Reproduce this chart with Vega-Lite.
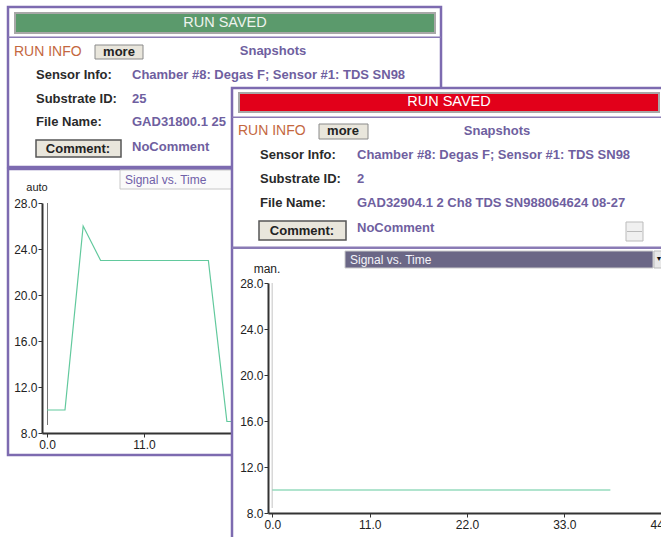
{
  "$schema": "https://vega.github.io/schema/vega-lite/v6.json",
  "width": 661,
  "height": 537,
  "autosize": {"type": "none"},
  "padding": 0,
  "background": "white",
  "config": {
    "view": {"stroke": null},
    "font": "Liberation Sans",
    "text": {"font": "Liberation Sans", "baseline": "middle", "align": "left", "fontSize": 13}
  },
  "datasets": {
    "run25": [
      {"t": 0, "v": 10},
      {"t": 2.04, "v": 10},
      {"t": 4.1, "v": 26},
      {"t": 6.08, "v": 23},
      {"t": 18.3, "v": 23},
      {"t": 20.4, "v": 9},
      {"t": 22, "v": 9}
    ],
    "run2": [
      {"t": 0, "v": 10},
      {"t": 38.2, "v": 10}
    ],
    "ui": [{}]
  },
  "data": {"name": "ui"},
  "resolve": {
    "scale": {"x": "independent", "y": "independent"},
    "axis": {"x": "independent", "y": "independent"}
  },
  "layer": [
    {"mark": {"type": "rect", "x": 8, "y": 7, "x2": 441, "y2": 167, "fillOpacity": 0, "stroke": "#7d6bb0", "strokeWidth": 2.5}, "encoding": {}},
    {"mark": {"type": "rect", "x": 8, "y": 169, "x2": 437, "y2": 455, "fillOpacity": 0, "stroke": "#7d6bb0", "strokeWidth": 2.5}, "encoding": {}},
    {"mark": {"type": "rect", "x": 8, "y": 36.5, "x2": 441, "y2": 38, "fill": "#8a7bb5"}, "encoding": {}},
    {"mark": {"type": "rect", "x": 15, "y": 13, "x2": 435, "y2": 33, "fill": "#5b9a6c", "stroke": "#a8a8a8", "strokeWidth": 2}, "encoding": {}},
    {"mark": {"type": "text", "x": 225, "y": 23, "text": "RUN SAVED", "align": "center", "fontSize": 14.5, "color": "#eef3ee"}, "encoding": {}},
    {"mark": {"type": "text", "x": 14, "y": 52, "text": "RUN INFO", "fontSize": 14, "color": "#c4683f"}, "encoding": {}},
    {"mark": {"type": "rect", "x": 95, "y": 45, "x2": 143, "y2": 59, "fill": "#e9e6dc", "stroke": "#8a8a8a", "strokeWidth": 1}, "encoding": {}},
    {"mark": {"type": "text", "x": 119, "y": 52, "text": "more", "align": "center", "fontWeight": "bold", "color": "#222222"}, "encoding": {}},
    {"mark": {"type": "text", "x": 273, "y": 51, "text": "Snapshots", "align": "center", "fontWeight": "bold", "color": "#6f5fa0"}, "encoding": {}},
    {"mark": {"type": "text", "x": 36, "y": 75, "text": "Sensor Info:", "fontWeight": "bold", "color": "#2a2a2a"}, "encoding": {}},
    {"mark": {"type": "text", "x": 132, "y": 75, "text": "Chamber #8: Degas F; Sensor #1: TDS SN98", "fontWeight": "bold", "color": "#6f5fa0"}, "encoding": {}},
    {"mark": {"type": "text", "x": 36, "y": 99, "text": "Substrate ID:", "fontWeight": "bold", "color": "#2a2a2a"}, "encoding": {}},
    {"mark": {"type": "text", "x": 132, "y": 99, "text": "25", "fontWeight": "bold", "color": "#6f5fa0"}, "encoding": {}},
    {"mark": {"type": "text", "x": 36, "y": 122, "text": "File Name:", "fontWeight": "bold", "color": "#2a2a2a"}, "encoding": {}},
    {"mark": {"type": "text", "x": 132, "y": 122, "text": "GAD31800.1 25", "fontWeight": "bold", "color": "#6f5fa0"}, "encoding": {}},
    {"mark": {"type": "rect", "x": 36, "y": 140, "x2": 121, "y2": 157, "fill": "#e9e6dc", "stroke": "#555555", "strokeWidth": 1.5}, "encoding": {}},
    {"mark": {"type": "text", "x": 78, "y": 149, "text": "Comment:", "align": "center", "fontWeight": "bold", "color": "#222222"}, "encoding": {}},
    {"mark": {"type": "text", "x": 132, "y": 147, "text": "NoComment", "fontWeight": "bold", "color": "#6f5fa0"}, "encoding": {}},
    {"mark": {"type": "rect", "x": 120, "y": 170, "x2": 236, "y2": 189, "fill": "#fafafa", "stroke": "#c8c8c8", "strokeWidth": 1}, "encoding": {}},
    {"mark": {"type": "text", "x": 125, "y": 180, "text": "Signal vs. Time", "fontSize": 12, "color": "#7060a8"}, "encoding": {}},
    {"mark": {"type": "text", "x": 37, "y": 188, "text": "auto", "align": "center", "fontSize": 11, "color": "#222222"}, "encoding": {}},
    {"mark": {"type": "rect", "x": 47.5, "y": 203, "x2": 47.5, "y2": 425, "fillOpacity": 0, "stroke": "#777777", "strokeWidth": 1, "strokeDash": [2, 2]}, "encoding": {}},
    {
      "data": {"name": "run25"},
      "mark": {"type": "line", "color": "#62c99d", "strokeWidth": 1.2},
      "encoding": {
        "x": {
          "field": "t", "type": "quantitative",
          "scale": {"domain": [-0.567, 44], "range": [42, 435], "nice": false, "zero": false},
          "axis": {"orient": "bottom", "values": [0, 11], "format": ".1f", "offset": -104, "title": null, "grid": false,
            "domainColor": "#333333", "domainWidth": 2, "tickColor": "#333333", "tickSize": 4, "labelFlush": false,
            "labelFontSize": 12, "labelColor": "#222222", "labelFont": "Liberation Sans", "labelPadding": 2, "zindex": 0}
        },
        "y": {
          "field": "v", "type": "quantitative",
          "scale": {"domain": [8, 28], "range": [433, 203], "nice": false, "zero": false},
          "axis": {"orient": "left", "values": [8, 12, 16, 20, 24, 28], "format": ".1f", "offset": -42, "title": null, "grid": false,
            "domainColor": "#333333", "domainWidth": 2, "tickColor": "#333333", "tickSize": 4, "labelFlush": false,
            "labelFontSize": 12, "labelColor": "#222222", "labelFont": "Liberation Sans", "labelPadding": 1, "zindex": 0}
        }
      }
    },
    {"mark": {"type": "rect", "x": 232, "y": 88, "x2": 700, "y2": 600, "fill": "white", "stroke": "#7d6bb0", "strokeWidth": 2.5}, "encoding": {}},
    {"mark": {"type": "rect", "x": 239, "y": 93, "x2": 659, "y2": 112, "fill": "#e2001a", "stroke": "#a8a8a8", "strokeWidth": 2}, "encoding": {}},
    {"mark": {"type": "text", "x": 449, "y": 102, "text": "RUN SAVED", "align": "center", "fontSize": 14.5, "color": "#ffffff"}, "encoding": {}},
    {"mark": {"type": "rect", "x": 232, "y": 116.5, "x2": 661, "y2": 118, "fill": "#8a7bb5"}, "encoding": {}},
    {"mark": {"type": "text", "x": 238, "y": 131, "text": "RUN INFO", "fontSize": 14, "color": "#c4683f"}, "encoding": {}},
    {"mark": {"type": "rect", "x": 319, "y": 124, "x2": 368, "y2": 139, "fill": "#e9e6dc", "stroke": "#8a8a8a", "strokeWidth": 1}, "encoding": {}},
    {"mark": {"type": "text", "x": 343, "y": 131, "text": "more", "align": "center", "fontWeight": "bold", "color": "#222222"}, "encoding": {}},
    {"mark": {"type": "text", "x": 497, "y": 131, "text": "Snapshots", "align": "center", "fontWeight": "bold", "color": "#6f5fa0"}, "encoding": {}},
    {"mark": {"type": "text", "x": 260, "y": 155, "text": "Sensor Info:", "fontWeight": "bold", "color": "#2a2a2a"}, "encoding": {}},
    {"mark": {"type": "text", "x": 357, "y": 155, "text": "Chamber #8: Degas F; Sensor #1: TDS SN98", "fontWeight": "bold", "color": "#6f5fa0"}, "encoding": {}},
    {"mark": {"type": "text", "x": 260, "y": 179, "text": "Substrate ID:", "fontWeight": "bold", "color": "#2a2a2a"}, "encoding": {}},
    {"mark": {"type": "text", "x": 357, "y": 179, "text": "2", "fontWeight": "bold", "color": "#6f5fa0"}, "encoding": {}},
    {"mark": {"type": "text", "x": 260, "y": 203, "text": "File Name:", "fontWeight": "bold", "color": "#2a2a2a"}, "encoding": {}},
    {"mark": {"type": "text", "x": 357, "y": 203, "text": "GAD32904.1 2 Ch8 TDS SN988064624 08-27", "fontWeight": "bold", "color": "#6f5fa0"}, "encoding": {}},
    {"mark": {"type": "rect", "x": 259, "y": 221, "x2": 346, "y2": 240, "fill": "#e9e6dc", "stroke": "#555555", "strokeWidth": 1.5}, "encoding": {}},
    {"mark": {"type": "text", "x": 302, "y": 230.5, "text": "Comment:", "align": "center", "fontWeight": "bold", "color": "#222222"}, "encoding": {}},
    {"mark": {"type": "text", "x": 357, "y": 228, "text": "NoComment", "fontWeight": "bold", "color": "#6f5fa0"}, "encoding": {}},
    {"mark": {"type": "rect", "x": 626, "y": 222, "x2": 643, "y2": 241, "fill": "#f0f0f0", "stroke": "#bbbbbb", "strokeWidth": 1}, "encoding": {}},
    {"mark": {"type": "rect", "x": 627, "y": 231, "x2": 642, "y2": 232, "fill": "#bbbbbb"}, "encoding": {}},
    {"mark": {"type": "rect", "x": 232, "y": 246.5, "x2": 661, "y2": 249, "fill": "#8a7bb5"}, "encoding": {}},
    {"mark": {"type": "rect", "x": 345, "y": 251, "x2": 653, "y2": 268, "fill": "#6b6786", "stroke": "#cccccc", "strokeWidth": 1}, "encoding": {}},
    {"mark": {"type": "text", "x": 350, "y": 260, "text": "Signal vs. Time", "fontSize": 12, "color": "#f4f4fa"}, "encoding": {}},
    {"mark": {"type": "rect", "x": 654, "y": 251, "x2": 668, "y2": 268, "fill": "#e8e8e8", "stroke": "#bbbbbb", "strokeWidth": 1}, "encoding": {}},
    {"mark": {"type": "text", "x": 659, "y": 259, "text": "▼", "align": "center", "fontSize": 7, "color": "#111111"}, "encoding": {}},
    {"mark": {"type": "text", "x": 267, "y": 269, "text": "man.", "align": "center", "fontSize": 12, "color": "#222222"}, "encoding": {}},
    {"mark": {"type": "rect", "x": 271.5, "y": 283, "x2": 273, "y2": 508, "fill": "#d8d8d8"}, "encoding": {}},
    {
      "data": {"name": "run2"},
      "mark": {"type": "line", "color": "#62c99d", "strokeWidth": 1.2},
      "encoding": {
        "x": {
          "field": "t", "type": "quantitative",
          "scale": {"domain": [-0.49, 48.33], "range": [268, 700], "nice": false, "zero": false},
          "axis": {"orient": "bottom", "values": [0, 11, 22, 33, 44], "format": ".1f", "offset": -24, "title": null, "grid": false,
            "domainColor": "#333333", "domainWidth": 2, "tickColor": "#333333", "tickSize": 4, "labelFlush": false,
            "labelFontSize": 12, "labelColor": "#222222", "labelFont": "Liberation Sans", "labelPadding": 2, "zindex": 1}
        },
        "y": {
          "field": "v", "type": "quantitative",
          "scale": {"domain": [8, 28], "range": [513, 283], "nice": false, "zero": false},
          "axis": {"orient": "left", "values": [8, 12, 16, 20, 24, 28], "format": ".1f", "offset": -268, "title": null, "grid": false,
            "domainColor": "#333333", "domainWidth": 2, "tickColor": "#333333", "tickSize": 4, "labelFlush": false,
            "labelFontSize": 12, "labelColor": "#222222", "labelFont": "Liberation Sans", "labelPadding": 1, "zindex": 1}
        }
      }
    }
  ]
}
